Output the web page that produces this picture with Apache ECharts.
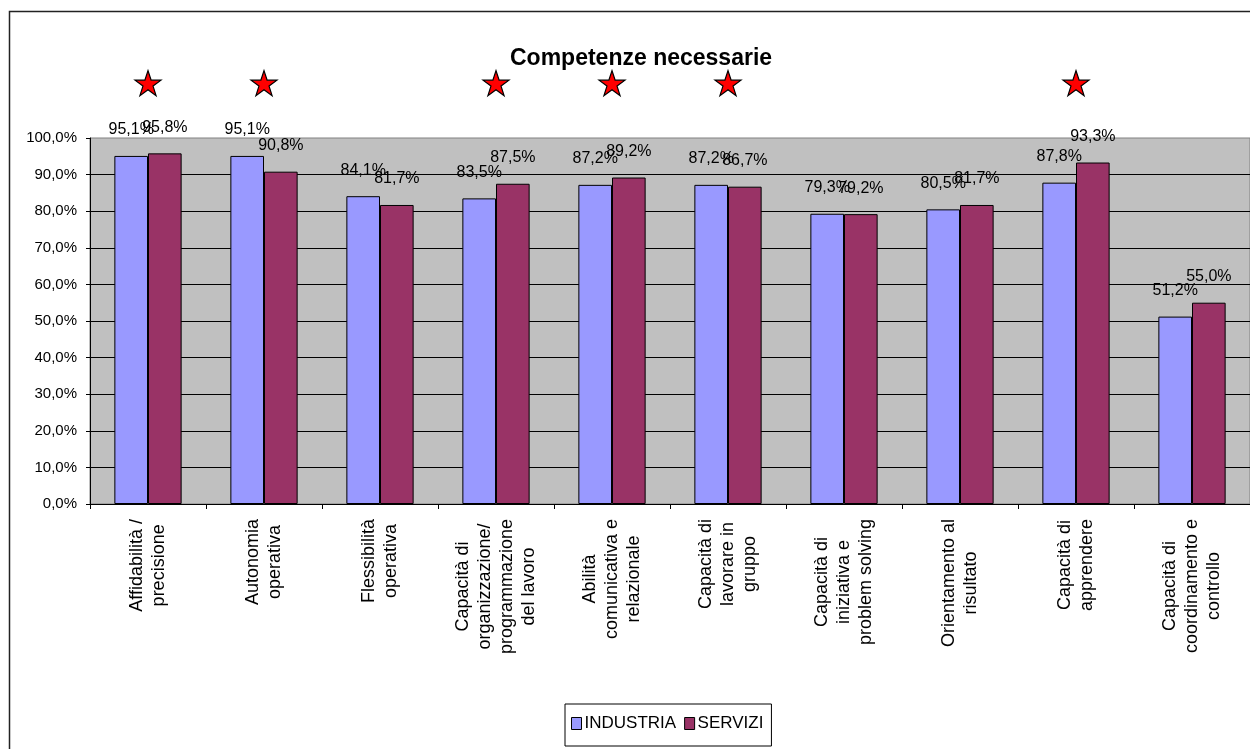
<!DOCTYPE html>
<html>
<head>
<meta charset="utf-8">
<script src="https://cdn.jsdelivr.net/npm/echarts@6/dist/echarts.min.js"></script>
<style>
html,body{margin:0;padding:0;background:#fff;}
#chart{width:1250px;height:749px;}
</style>
</head>
<body>
<div id="chart"></div>
<script>
const title = 'Competenze necessarie';
const categories = [
  'Affidabilità /\nprecisione',
  'Autonomia\noperativa',
  'Flessibilità\noperativa',
  'Capacità di\norganizzazione/\nprogrammazione\ndel lavoro',
  'Abilità\ncomunicativa e\nrelazionale',
  'Capacità di\nlavorare in\ngruppo',
  'Capacità di\niniziativa e\nproblem solving',
  'Orientamento al\nrisultato',
  'Capacità di\napprendere',
  'Capacità di\ncoordinamento e\ncontrollo'
];
const seriesNames = ['INDUSTRIA', 'SERVIZI'];
const industria = [95.1, 95.1, 84.1, 83.5, 87.2, 87.2, 79.3, 80.5, 87.8, 51.2];
const servizi   = [95.8, 90.8, 81.7, 87.5, 89.2, 86.7, 79.2, 81.7, 93.3, 55.0];
const starred   = [1, 1, 0, 1, 1, 1, 0, 0, 1, 0];
const starLevel = 115;

const FONT = "'Liberation Sans', Arial, sans-serif";
const fmt = v => v.toFixed(1).replace('.', ',') + '%';
const STAR = 'path://M50,2 L61.8,37.6 L99,37.6 L69,59.6 L80.4,95 L50,73.2 L19.6,95 L31,59.6 L1,37.6 L38.2,37.6 Z';

const chart = echarts.init(document.getElementById('chart'));
const barLabel = {
  show: true, position: 'top', distance: 18,
  formatter: p => fmt(p.value),
  color: '#000', fontFamily: FONT, fontSize: 16
};
chart.setOption({
  animation: false,
  backgroundColor: '#fff',
  title: {
    text: title, left: 505, top: 42,
    textStyle: {fontFamily: FONT, fontWeight: 'bold', fontSize: 23, color: '#000'}
  },
  graphic: [{
    type: 'rect', shape: {x: 9.5, y: 11.5, width: 1300, height: 800},
    style: {fill: 'none', stroke: '#222', lineWidth: 1.5}, silent: true, z: -1
  }],
  legend: {
    data: seriesNames, left: 565, top: 704,
    itemWidth: 10, itemHeight: 12, itemGap: 8,
    padding: [11, 8, 14, 6],
    borderColor: '#000', borderWidth: 1,
    icon: 'rect',
    itemStyle: {borderColor: '#000', borderWidth: 1},
    textStyle: {fontFamily: FONT, fontSize: 17, color: '#000', padding: [0, 0, 0, -2]}
  },
  grid: {
    left: 90, right: 0, top: 138, bottom: 245,
    show: true, backgroundColor: '#C0C0C0', borderColor: '#808080', borderWidth: 1
  },
  xAxis: {
    type: 'category', data: categories,
    axisLine: {lineStyle: {color: '#000', width: 1}},
    axisTick: {show: true, length: 5, lineStyle: {color: '#000'}},
    axisLabel: {
      interval: 0, rotate: 90, margin: 15,
      fontFamily: FONT, fontSize: 18, color: '#000',
      formatter: v => v.split('\n').map(l => '{c|' + l + '}').join('\n'),
      rich: {c: {align: 'center', fontFamily: FONT, fontSize: 18, color: '#000', lineHeight: 22}}
    }
  },
  yAxis: {
    type: 'value', min: 0, max: 100, interval: 10,
    axisLine: {show: true, lineStyle: {color: '#000'}},
    axisTick: {show: true, length: 4, lineStyle: {color: '#000'}},
    axisLabel: {formatter: v => fmt(v), fontFamily: FONT, fontSize: 15, color: '#000', margin: 13},
    splitLine: {show: true, showMaxLine: false, lineStyle: {color: '#000', width: 1}}
  },
  series: [
    {
      name: seriesNames[0], type: 'bar', data: industria,
      barGap: '0%', barCategoryGap: '42%',
      itemStyle: {color: '#9999FF', borderColor: '#000', borderWidth: 1},
      label: barLabel
    },
    {
      name: seriesNames[1], type: 'bar', data: servizi,
      itemStyle: {color: '#993366', borderColor: '#000', borderWidth: 1},
      label: barLabel
    },
    {
      name: 'stelle', type: 'scatter', clip: false,
      data: categories.map((c, i) => starred[i] ? [i, starLevel] : null).filter(Boolean),
      symbol: STAR, symbolSize: [26, 25],
      itemStyle: {color: '#FF0000', borderColor: '#000', borderWidth: 1.2, opacity: 1},
      z: 5
    }
  ]
});
</script>
</body>
</html>
